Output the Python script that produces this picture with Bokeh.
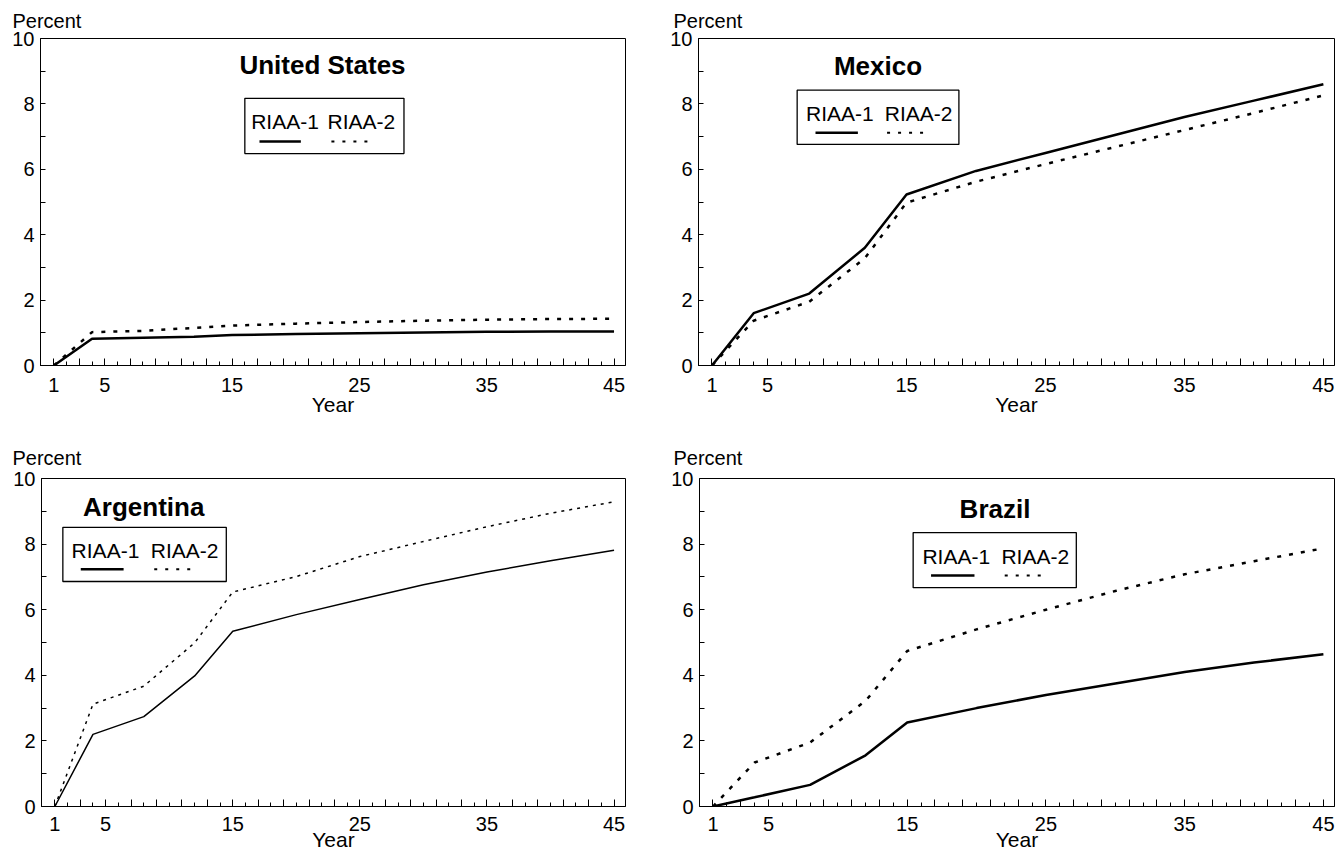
from bokeh.plotting import figure
from bokeh.layouts import column, row
from bokeh.models import Range1d, FixedTicker, Title
from bokeh.core.properties import value
from bokeh.embed import file_html
from bokeh.resources import INLINE

# ---------------- data ----------------
years = [1, 4, 8, 12, 15, 20, 25, 30, 35, 40, 45]

us_riaa1 = [0, 0.82, 0.85, 0.88, 0.93, 0.96, 0.99, 1.01, 1.03, 1.04, 1.04]
us_riaa2 = [0, 1.02, 1.06, 1.15, 1.22, 1.28, 1.33, 1.37, 1.40, 1.42, 1.43]

mx_riaa1 = [0, 1.60, 2.20, 3.60, 5.23, 5.95, 6.50, 7.05, 7.60, 8.10, 8.60]
mx_riaa2 = [0, 1.37, 1.95, 3.28, 4.98, 5.62, 6.16, 6.68, 7.20, 7.72, 8.26]

ar_riaa1 = [0, 2.20, 2.74, 3.98, 5.34, 5.85, 6.31, 6.76, 7.15, 7.49, 7.81]
ar_riaa2 = [0, 3.12, 3.67, 4.99, 6.54, 7.01, 7.62, 8.08, 8.53, 8.94, 9.29]

br_riaa1 = [0, 0.28, 0.66, 1.56, 2.56, 3.00, 3.40, 3.75, 4.10, 4.39, 4.64]
br_riaa2 = [0, 1.34, 1.95, 3.22, 4.74, 5.40, 6.00, 6.57, 7.08, 7.48, 7.87]

series_names = ["RIAA-1", "RIAA-2"]
x_tick_labels = [1, 5, 15, 25, 35, 45]
y_tick_labels = [0, 2, 4, 6, 8, 10]
y_label = "Percent"
x_label = "Year"

FONT = "Liberation Sans"

# ---------------- layout / style (positions, not data) ----------------
panels = [
    dict(name="United States", r1=us_riaa1, r2=us_riaa2,
         size=(660, 420), border=(40, 35, 38, 54), xr=(-0.05, 45.9), pct_off=-28,
         pct_stand=13, xstand=(12, -2),
         title=(22.1, 9.2), box=(16.0, 28.5, 8.17, 6.48), txt=(16.5, 22.5, 7.45),
         smp=(17.15, 20.4, 22.8, 25.8, 6.85), lw=2.5, dash="4 8"),
    dict(name="Mexico", r1=mx_riaa1, r2=mx_riaa2,
         size=(678, 420), border=(38, 4, 38, 55), xr=(0.03, 45.8), pct_off=-25,
         pct_stand=13, xstand=(12, -2),
         title=(12.95, 9.16), box=(7.13, 18.77, 8.42, 6.76), txt=(7.77, 13.44, 7.72),
         smp=(8.45, 11.5, 13.6, 16.4, 7.12), lw=2.5, dash="4 8"),
    dict(name="Argentina", r1=ar_riaa1, r2=ar_riaa2,
         size=(660, 433), border=(41, 35, 58, 47), xr=(-0.05, 45.9), pct_off=-29,
         pct_stand=19, xstand=(10, -6),
         title=(7.99, 9.14), box=(1.63, 14.49, 8.51, 6.86), txt=(2.32, 8.55, 7.82),
         smp=(3.04, 6.41, 8.82, 11.95, 7.23), lw=1.5, dash="3 5"),
    dict(name="Brazil", r1=br_riaa1, r2=br_riaa2,
         size=(678, 433), border=(39, 4, 58, 47), xr=(0.03, 45.8), pct_off=-26,
         pct_stand=19, xstand=(10, -6),
         title=(21.33, 9.06), box=(15.43, 27.19, 8.35, 6.67), txt=(16.1, 21.79, 7.63),
         smp=(16.72, 19.85, 22.03, 24.89, 7.04), lw=2.5, dash="4 8"),
]

odd_years = list(range(1, 46, 2))
even_years = list(range(2, 45, 2))
x_overrides = {y: (str(y) if y in x_tick_labels else "") for y in odd_years}


def make_panel(cfg):
    w, h = cfg["size"]
    bl, br, bt, bb = cfg["border"]
    x0, x1r = cfg["xr"]
    p = figure(width=w, height=h, output_backend="svg", toolbar_location=None,
               x_range=Range1d(x0, x1r), y_range=Range1d(0, 10),
               min_border_left=bl, min_border_right=br,
               min_border_top=bt, min_border_bottom=bb)
    p.background_fill_color = "white"
    p.border_fill_color = "white"
    p.outline_line_color = "black"
    p.outline_line_width = 1
    p.outline_line_alpha = 1
    p.xgrid.visible = False
    p.ygrid.visible = False

    # x axis
    xa = p.xaxis[0]
    xa.ticker = FixedTicker(ticks=odd_years, minor_ticks=even_years)
    xa.major_label_overrides = x_overrides
    xa.major_tick_in = 7
    xa.major_tick_out = 0
    xa.minor_tick_in = 4
    xa.minor_tick_out = 0
    xa.axis_line_color = "black"
    xa.major_tick_line_color = "black"
    xa.minor_tick_line_color = "black"
    xa.major_label_text_font = FONT
    xa.major_label_text_font_size = "20px"
    xa.major_label_text_color = "black"
    xa.major_label_standoff = cfg["xstand"][0]
    xa.axis_label = x_label
    xa.axis_label_text_font = FONT
    xa.axis_label_text_font_size = "21px"
    xa.axis_label_text_font_style = "normal"
    xa.axis_label_text_color = "black"
    xa.axis_label_standoff = cfg["xstand"][1]

    # y axis
    ya = p.yaxis[0]
    ya.ticker = FixedTicker(ticks=y_tick_labels, minor_ticks=[1, 3, 5, 7, 9])
    ya.major_tick_in = 5
    ya.major_tick_out = 0
    ya.minor_tick_in = 5
    ya.minor_tick_out = 0
    ya.axis_line_color = "black"
    ya.major_tick_line_color = "black"
    ya.minor_tick_line_color = "black"
    ya.major_label_text_font = FONT
    ya.major_label_text_font_size = "20px"
    ya.major_label_text_color = "black"
    ya.major_label_standoff = 6

    # "Percent" above the y axis
    p.add_layout(Title(text=y_label, align="left", offset=cfg["pct_off"],
                       text_font=FONT, text_font_size="20px",
                       text_font_style="normal", text_color="black",
                       standoff=cfg["pct_stand"]), "above")

    # series
    p.line(years, cfg["r1"], line_color="black", line_width=cfg["lw"])
    p.line(years, cfg["r2"], line_color="black", line_width=cfg["lw"],
           line_dash=cfg["dash"])

    # panel title
    tx, ty = cfg["title"]
    p.text(x=[tx], y=[ty], text=[cfg["name"]], text_font=value(FONT),
           text_font_size="26px", text_font_style="bold", text_color="black",
           text_align="center", text_baseline="middle")

    # legend box (drawn as glyphs so the entries sit on top of it)
    l, r, t, b = cfg["box"]
    p.quad(left=[l], right=[r], top=[t], bottom=[b],
           fill_color="white", line_color="black", line_width=1.3)
    xt1, xt2, y_t = cfg["txt"]
    p.text(x=[xt1, xt2], y=[y_t, y_t], text=series_names, text_font=value(FONT),
           text_font_size="21px", text_color="black",
           text_align="left", text_baseline="middle")
    s1a, s1b, s2a, s2b, sy = cfg["smp"]
    p.line([s1a, s1b], [sy, sy], line_color="black", line_width=2.5)
    p.line([s2a, s2b], [sy, sy], line_color="black", line_width=2,
           line_dash="3 8")
    return p


figs = [make_panel(c) for c in panels]
layout = column(row(figs[0], figs[1], spacing=0), row(figs[2], figs[3], spacing=0), spacing=0)

open("out.html", "w").write(file_html(layout, INLINE))
